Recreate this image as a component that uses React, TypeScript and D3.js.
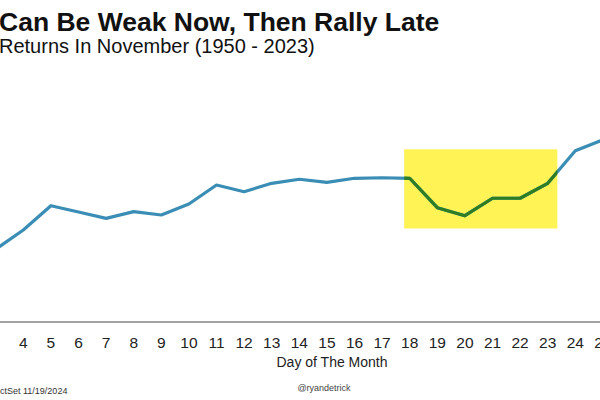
import React from "react";
import * as d3 from "d3";

const days = [3, 4, 5, 6, 7, 8, 9, 10, 11, 12, 13, 14, 15, 16, 17, 18, 19, 20, 21, 22, 23, 24, 25];
const avgReturn = [0.12, 0.333, 0.603, 0.533, 0.463, 0.537, 0.5, 0.622, 0.833, 0.759, 0.852, 0.897, 0.863, 0.908, 0.914, 0.908, 0.581, 0.492, 0.686, 0.686, 0.852, 1.214, 1.336];
const tickDays = [3, 4, 5, 6, 7, 8, 9, 10, 11, 12, 13, 14, 15, 16, 17, 18, 19, 20, 21, 22, 23, 24, 25];
const highlightDays = [17.8, 23.35];
const highlightRange = [0.35, 1.23];

const title = "Can Be Weak Now, Then Rally Late";
const subtitle = "Returns In November (1950 - 2023)";
const xLabel = "Day of The Month";
const sourceNote = "ctSet 11/19/2024";
const handle = "@ryandetrick";

const W = 600;
const H = 400;
const FONT = "'Liberation Sans', Arial, Helvetica, sans-serif";

export default function App() {
  const x = d3.scaleLinear().domain([4, 24]).range([23.3, 575.3]);
  const y = d3.scaleLinear().domain([0, 1]).range([260, 170]);
  const pts: [number, number][] = days.map((d, i) => [d, avgReturn[i]]);
  const line = d3
    .line<[number, number]>()
    .x((p) => x(p[0]))
    .y((p) => y(p[1]))
    .curve(d3.curveLinear);
  const path = line(pts) || "";
  const rx = x(highlightDays[0]);
  const rw = x(highlightDays[1]) - rx;
  const ry = y(highlightRange[1]);
  const rh = y(highlightRange[0]) - ry;
  const axisY = 322;

  return (
    <svg
      width={W}
      height={H}
      style={{ position: "fixed", left: 0, top: 0, background: "#fff" }}
      fontFamily={FONT}
    >
      <defs>
        <clipPath id="hl">
          <rect x={rx} y={ry} width={rw} height={rh} />
        </clipPath>
      </defs>
      <rect x={0} y={0} width={W} height={H} fill="#fff" />
      <text x={-1} y={31} fontSize={26.5} fontWeight="bold" fill="#111">
        {title}
      </text>
      <text x={-1} y={53} fontSize={20} fill="#111">
        {subtitle}
      </text>
      <rect x={rx} y={ry} width={rw} height={rh} fill="#fff355" />
      <path d={path} fill="none" stroke="#3a8db4" strokeWidth={3.2} strokeLinejoin="round" />
      <path
        d={path}
        fill="none"
        stroke="#2f7d22"
        strokeWidth={3.2}
        strokeLinejoin="round"
        clipPath="url(#hl)"
      />
      <line x1={0} x2={W} y1={axisY} y2={axisY} stroke="#a3a3a3" strokeWidth={2} />
      {tickDays.map((d) => (
        <text key={d} x={x(d)} y={348} fontSize={15.5} textAnchor="middle" fill="#222">
          {d}
        </text>
      ))}
      <text x={332} y={367} fontSize={14} textAnchor="middle" fill="#222">
        {xLabel}
      </text>
      <text x={0} y={394} fontSize={9} fill="#333">
        {sourceNote}
      </text>
      <text x={324} y={391} fontSize={9} textAnchor="middle" fill="#444">
        {handle}
      </text>
    </svg>
  );
}
